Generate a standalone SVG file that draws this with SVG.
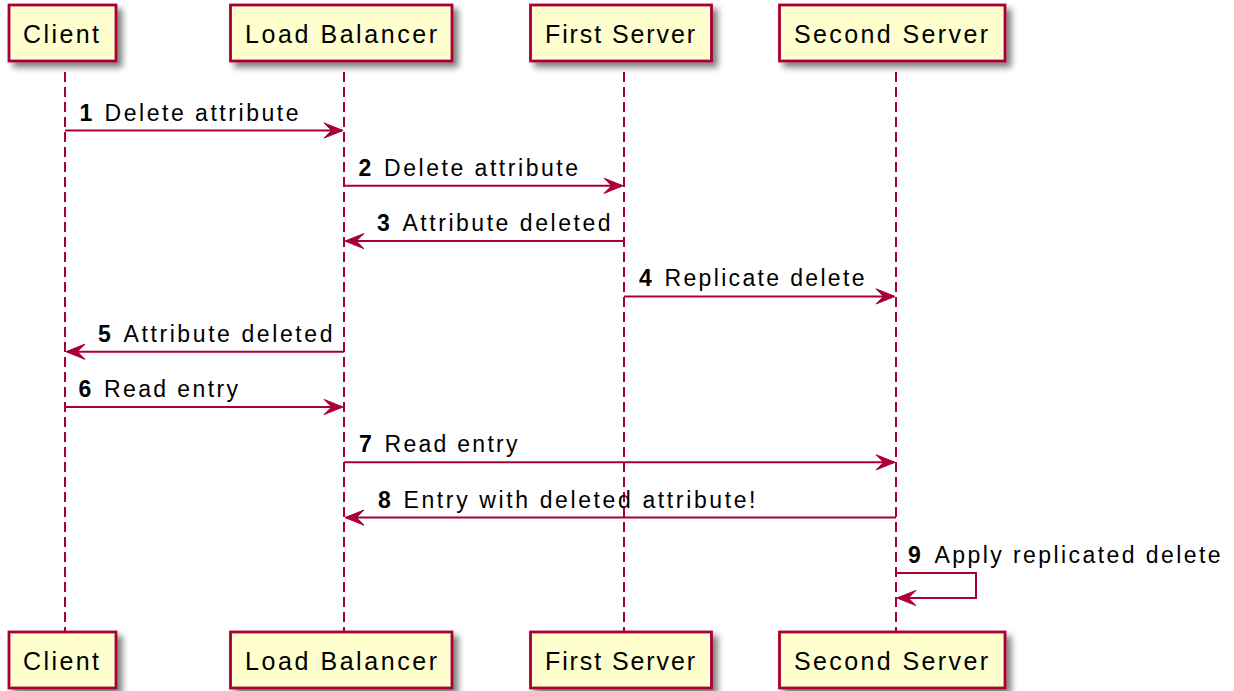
<svg xmlns="http://www.w3.org/2000/svg" width="1234" height="691" viewBox="0 0 1234 691">
  <defs>
    <filter id="shadow" x="-20%" y="-20%" width="150%" height="160%">
      <feGaussianBlur in="SourceAlpha" stdDeviation="3" result="blur"/>
      <feOffset in="blur" dx="5" dy="5" result="off"/>
      <feFlood flood-color="#000000" flood-opacity="0.5"/>
      <feComposite in2="off" operator="in" result="sh"/>
      <feMerge>
        <feMergeNode in="sh"/>
        <feMergeNode in="SourceGraphic"/>
      </feMerge>
    </filter>
  </defs>
  <style>
    .box { fill: #FEFECE; stroke: #A80036; stroke-width: 2.8; filter: url(#shadow); }
    .pname { font-family: "Liberation Sans", Arial, sans-serif; font-size: 25px; fill: #000000; text-anchor: middle; }
    .life { stroke: #A80036; stroke-width: 2; stroke-dasharray: 10 5; fill: none; }
    .msg { stroke: #A80036; stroke-width: 2; fill: none; }
    .head { fill: #A80036; stroke: #A80036; stroke-width: 1; }
    .num { font-family: "Liberation Sans", Arial, sans-serif; font-size: 23px; font-weight: bold; fill: #000000; }
    .lbl { font-family: "Liberation Sans", Arial, sans-serif; font-size: 23px; fill: #000000; }
  </style>
  <rect width="1234" height="691" fill="#FFFFFF"/>

  <!-- lifelines -->
  <g id="lifelines">
    <line class="life" x1="65" y1="72" x2="65" y2="632"/>
    <line class="life" x1="344" y1="72" x2="344" y2="632"/>
    <line class="life" x1="624" y1="72" x2="624" y2="632"/>
    <line class="life" x1="896" y1="72" x2="896" y2="632"/>
  </g>

  <!-- participants -->
  <g id="client">
    <rect class="box" x="9" y="5" width="107" height="56"/>
    <text class="pname" x="61" y="43" textLength="76" lengthAdjust="spacing">Client</text>
    <rect class="box" x="9" y="632" width="107" height="56"/>
    <text class="pname" x="61" y="670" textLength="76" lengthAdjust="spacing">Client</text>
  </g>
  <g id="load-balancer">
    <rect class="box" x="230.5" y="5" width="221.5" height="56"/>
    <text class="pname" x="341" y="43" textLength="192" lengthAdjust="spacing">Load Balancer</text>
    <rect class="box" x="230.5" y="632" width="221.5" height="56"/>
    <text class="pname" x="341" y="670" textLength="192" lengthAdjust="spacing">Load Balancer</text>
  </g>
  <g id="first-server">
    <rect class="box" x="530.5" y="5" width="181" height="56"/>
    <text class="pname" x="620" y="43" textLength="150" lengthAdjust="spacing">First Server</text>
    <rect class="box" x="530.5" y="632" width="181" height="56"/>
    <text class="pname" x="620" y="670" textLength="150" lengthAdjust="spacing">First Server</text>
  </g>
  <g id="second-server">
    <rect class="box" x="779.5" y="5" width="225.5" height="56"/>
    <text class="pname" x="891" y="43" textLength="194" lengthAdjust="spacing">Second Server</text>
    <rect class="box" x="779.5" y="632" width="225.5" height="56"/>
    <text class="pname" x="891" y="670" textLength="194" lengthAdjust="spacing">Second Server</text>
  </g>

  <!-- messages -->
  <g id="connectors">
    <!-- 1 Client -> Load Balancer -->
    <line class="msg" x1="65" y1="130.5" x2="342" y2="130.5"/>
    <polygon class="head" points="324,122.9 343,130.5 324,138.1 331.6,130.5"/>
    <!-- 2 Load Balancer -> First Server -->
    <line class="msg" x1="344" y1="185.8" x2="622" y2="185.8"/>
    <polygon class="head" points="604,178.2 623,185.8 604,193.4 611.6,185.8"/>
    <!-- 3 First Server -> Load Balancer -->
    <line class="msg" x1="346" y1="241.1" x2="624" y2="241.1"/>
    <polygon class="head" points="364,233.5 345,241.1 364,248.7 356.4,241.1"/>
    <!-- 4 First Server -> Second Server -->
    <line class="msg" x1="624" y1="296.4" x2="894" y2="296.4"/>
    <polygon class="head" points="876,288.8 895,296.4 876,304 883.6,296.4"/>
    <!-- 5 Load Balancer -> Client -->
    <line class="msg" x1="67" y1="351.7" x2="344" y2="351.7"/>
    <polygon class="head" points="85,344.1 66,351.7 85,359.3 77.4,351.7"/>
    <!-- 6 Client -> Load Balancer -->
    <line class="msg" x1="65" y1="407" x2="342" y2="407"/>
    <polygon class="head" points="324,399.4 343,407 324,414.6 331.6,407"/>
    <!-- 7 Load Balancer -> Second Server -->
    <line class="msg" x1="344" y1="462.3" x2="894" y2="462.3"/>
    <polygon class="head" points="876,454.7 895,462.3 876,469.9 883.6,462.3"/>
    <!-- 8 Second Server -> Load Balancer -->
    <line class="msg" x1="346" y1="517.6" x2="896" y2="517.6"/>
    <polygon class="head" points="364,510 345,517.6 364,525.2 356.4,517.6"/>
    <!-- 9 Second Server -> itself -->
    <polyline class="msg" points="896,573 976,573 976,598 899,598"/>
    <polygon class="head" points="916,590.4 897,598 916,605.6 908.4,598"/>
  </g>

  <!-- message labels -->
  <g id="labels">
    <text class="num" x="79.5" y="120.5">1</text>
    <text class="lbl" x="104.5" y="120.5" textLength="194" lengthAdjust="spacing">Delete attribute</text>
    <text class="num" x="358.5" y="175.8">2</text>
    <text class="lbl" x="384" y="175.8" textLength="194" lengthAdjust="spacing">Delete attribute</text>
    <text class="num" x="377" y="231.1">3</text>
    <text class="lbl" x="402.5" y="231.1" textLength="208" lengthAdjust="spacing">Attribute deleted</text>
    <text class="num" x="639" y="286.4">4</text>
    <text class="lbl" x="664.5" y="286.4" textLength="200" lengthAdjust="spacing">Replicate delete</text>
    <text class="num" x="98" y="341.7">5</text>
    <text class="lbl" x="123.5" y="341.7" textLength="209" lengthAdjust="spacing">Attribute deleted</text>
    <text class="num" x="78.5" y="397">6</text>
    <text class="lbl" x="104" y="397" textLength="134" lengthAdjust="spacing">Read entry</text>
    <text class="num" x="359" y="452.3">7</text>
    <text class="lbl" x="384.5" y="452.3" textLength="133" lengthAdjust="spacing">Read entry</text>
    <text class="num" x="378" y="507.6">8</text>
    <text class="lbl" x="403.5" y="507.6" textLength="352" lengthAdjust="spacing">Entry with deleted attribute!</text>
    <text class="num" x="908" y="562.9">9</text>
    <text class="lbl" x="934.5" y="562.9" textLength="286" lengthAdjust="spacing">Apply replicated delete</text>
  </g>
</svg>
